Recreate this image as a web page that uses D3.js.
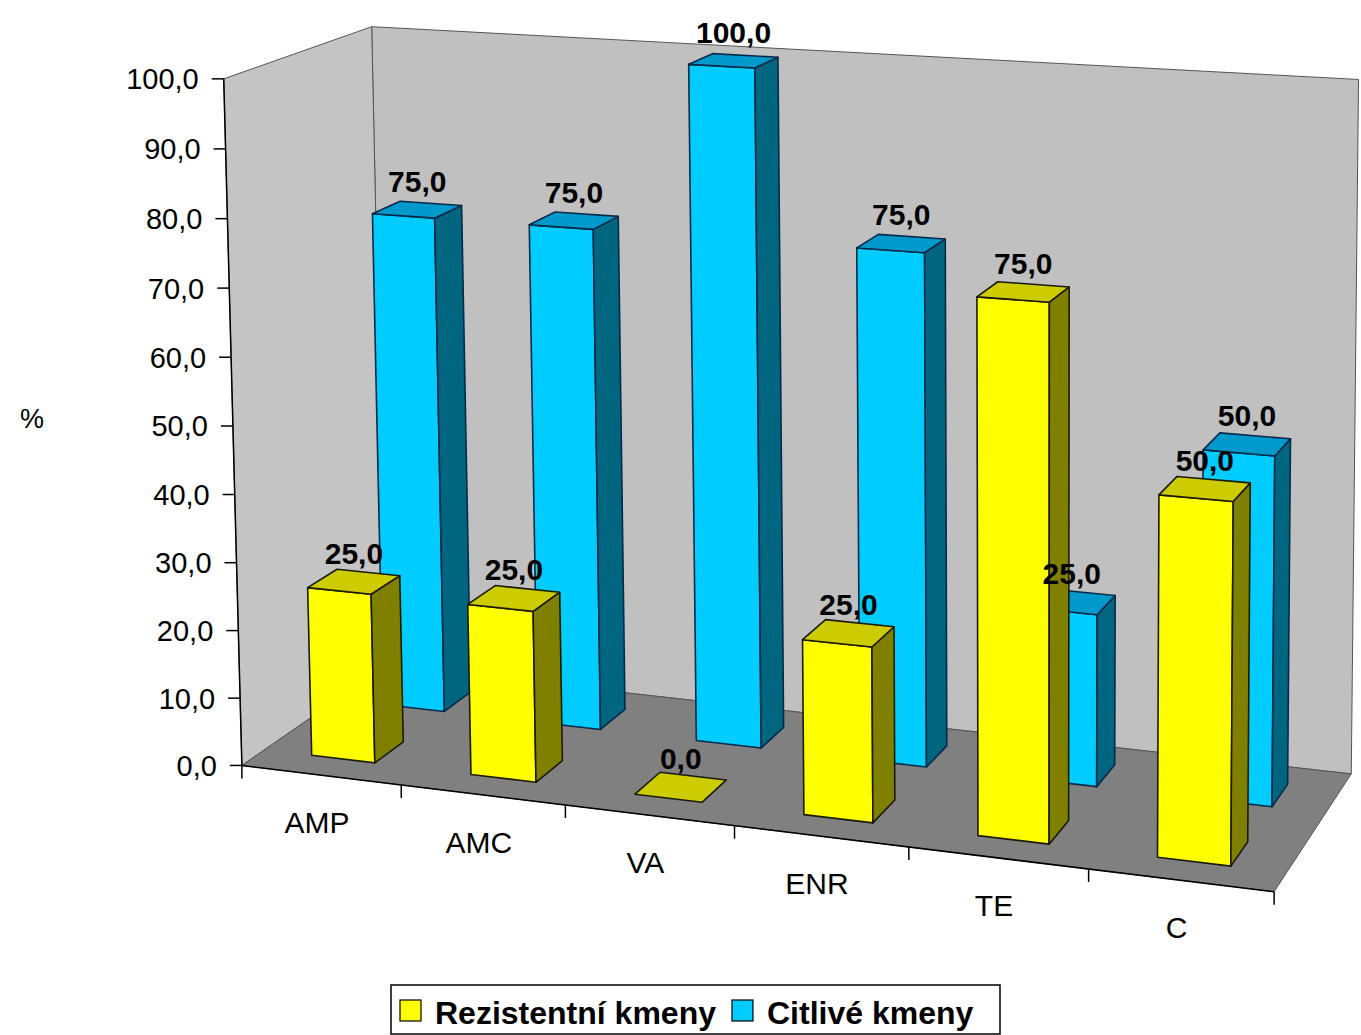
<!DOCTYPE html>
<html lang="cs">
<head>
<meta charset="utf-8">
<title>Rezistence kmenů - D3</title>
<style>
  body { margin: 0; background: #fff; }
  svg { display: block; font-family: "Liberation Sans", Arial, sans-serif; }
</style>
</head>
<body>
<svg></svg>
<script src="https://cdn.jsdelivr.net/npm/d3@7/dist/d3.min.js"></script>
<script>
// data
var categories = ['AMP', 'AMC', 'VA', 'ENR', 'TE', 'C'];
var seriesNames = ['Rezistentní kmeny', 'Citlivé kmeny'];
var rezistentni = [25, 25, 0, 25, 75, 50];
var citlive = [75, 75, 100, 75, 25, 50];
var valueTicks = [0, 10, 20, 30, 40, 50, 60, 70, 80, 90, 100];

var width = 1361, height = 1035;
var svg = d3.select('svg').attr('width', width).attr('height', height);

var fmt = d3.formatLocale({ decimal: ',', thousands: ' ', grouping: [3], currency: ['', ''] }).format('.1f');

// world scales: category position, value, depth (row)
var xWorld = d3.scaleLinear().domain([0, categories.length]).range([0, 1]);
var yWorld = d3.scaleLinear().domain([0, 100]).range([0, 1]);
var xBand = d3.scaleBand().domain(categories).range([0, categories.length]);
var zBand = d3.scaleBand().domain(seriesNames).range([0, 1]);
var barFrac = 0.4;

// camera: fit a perspective projection to the plot box corners (cat, value, depth -> screen)
var calib = [
  [0, 0, 0, 245, 764], [0, 100, 0, 220, 78], [0, 0, 1, 380, 668], [0, 100, 1, 378, 25],
  [6, 0, 1, 1352, 773], [6, 100, 1, 1357, 80], [6, 0, 0, 1277, 893],
  [1, 0, 0, 402, 784], [2, 0, 0, 566, 804], [3, 0, 0, 735, 825], [4, 0, 0, 907, 847], [5, 0, 0, 1087, 869],
  [0, 80, 0, 225, 220], [0, 50, 0, 233, 428], [0, 20, 0, 240, 631]
];

function solve(A, b) {
  var n = b.length, M = A.map(function (r, i) { return r.concat([b[i]]); });
  for (var c = 0; c < n; c++) {
    var p = c;
    for (var r = c + 1; r < n; r++) if (Math.abs(M[r][c]) > Math.abs(M[p][c])) p = r;
    var t = M[c]; M[c] = M[p]; M[p] = t;
    for (var r2 = c + 1; r2 < n; r2++) {
      var f = M[r2][c] / M[c][c];
      for (var k = c; k <= n; k++) M[r2][k] -= f * M[c][k];
    }
  }
  var x = new Array(n).fill(0);
  for (var i = n - 1; i >= 0; i--) {
    var s = M[i][n];
    for (var j = i + 1; j < n; j++) s -= M[i][j] * x[j];
    x[i] = s / M[i][i];
  }
  return x;
}

var m = (function () {
  var rows = [], rhs = [];
  calib.forEach(function (c) {
    var X = xWorld(c[0]), Y = yWorld(c[1]), Z = c[2], u = c[3] / 1000, v = c[4] / 1000;
    rows.push([X, Y, Z, 1, 0, 0, 0, 0, -u * X, -u * Y, -u * Z]); rhs.push(u);
    rows.push([0, 0, 0, 0, X, Y, Z, 1, -v * X, -v * Y, -v * Z]); rhs.push(v);
  });
  var AtA = [], Atb = [];
  for (var i = 0; i < 11; i++) {
    AtA.push(new Array(11).fill(0)); Atb.push(0);
    for (var r = 0; r < rows.length; r++) {
      Atb[i] += rows[r][i] * rhs[r];
      for (var j = 0; j < 11; j++) AtA[i][j] += rows[r][i] * rows[r][j];
    }
  }
  return solve(AtA, Atb);
})();

function project(cat, val, z) {
  var X = xWorld(cat), Y = yWorld(val), Z = z;
  var w = m[8] * X + m[9] * Y + m[10] * Z + 1;
  return [1000 * (m[0] * X + m[1] * Y + m[2] * Z + m[3]) / w,
          1000 * (m[4] * X + m[5] * Y + m[6] * Z + m[7]) / w];
}

function quad(pts) {
  return 'M' + pts.map(function (p) { return project(p[0], p[1], p[2]).join(','); }).join('L') + 'Z';
}

var n = categories.length;

// walls and floor
svg.append('path').attr('d', quad([[0, 0, 1], [n, 0, 1], [n, 100, 1], [0, 100, 1]]))
  .attr('fill', '#c0c0c0').attr('stroke', '#555').attr('stroke-width', 1);
svg.append('path').attr('d', quad([[0, 0, 0], [0, 0, 1], [0, 100, 1], [0, 100, 0]]))
  .attr('fill', '#c4c4c4').attr('stroke', '#555').attr('stroke-width', 1);
svg.append('path').attr('d', quad([[0, 0, 0], [n, 0, 0], [n, 0, 1], [0, 0, 1]]))
  .attr('fill', '#808080').attr('stroke', '#555').attr('stroke-width', 1);

// value axis
var a0 = project(0, 0, 0), a1 = project(0, 100, 0);
svg.append('line').attr('x1', a0[0]).attr('y1', a0[1]).attr('x2', a1[0]).attr('y2', a1[1])
  .attr('stroke', '#000').attr('stroke-width', 1.5);
var vt = svg.append('g').selectAll('g').data(valueTicks).enter().append('g');
vt.append('line')
  .attr('x1', function (d) { return project(0, d, 0)[0] - 12; })
  .attr('x2', function (d) { return project(0, d, 0)[0]; })
  .attr('y1', function (d) { return project(0, d, 0)[1]; })
  .attr('y2', function (d) { return project(0, d, 0)[1]; })
  .attr('stroke', '#000').attr('stroke-width', 1.5);
vt.append('text')
  .attr('x', function (d) { return project(0, d, 0)[0] - 25; })
  .attr('y', function (d) { return project(0, d, 0)[1]; })
  .attr('dy', '0.36em').attr('text-anchor', 'end')
  .attr('font-size', 29).attr('fill', '#000')
  .text(function (d) { return fmt(d); });

svg.append('text').attr('x', 32).attr('y', 418).attr('dy', '0.36em')
  .attr('text-anchor', 'middle').attr('font-size', 27).text('%');

// category axis
var c0 = project(0, 0, 0), c1 = project(n, 0, 0);
svg.append('line').attr('x1', c0[0]).attr('y1', c0[1]).attr('x2', c1[0]).attr('y2', c1[1])
  .attr('stroke', '#000').attr('stroke-width', 1.5);
svg.append('g').selectAll('line').data(d3.range(n + 1)).enter().append('line')
  .attr('x1', function (i) { return project(i, 0, 0)[0]; })
  .attr('x2', function (i) { return project(i, 0, 0)[0]; })
  .attr('y1', function (i) { return project(i, 0, 0)[1]; })
  .attr('y2', function (i) { return project(i, 0, 0)[1] + 13; })
  .attr('stroke', '#000').attr('stroke-width', 1.5);
svg.append('g').selectAll('text').data(categories).enter().append('text')
  .attr('x', function (d) { return project(xBand(d) + xBand.bandwidth() / 2, 0, 0)[0] - 4; })
  .attr('y', function (d) { return project(xBand(d) + xBand.bandwidth() / 2, 0, 0)[1] + 58; })
  .attr('text-anchor', 'middle').attr('font-size', 30).text(function (d) { return d; });

// bars: back row first, left to right
var styles = {
  'Rezistentní kmeny': { front: '#ffff00', side: '#808000', top: '#cccc00', line: '#1a1a00' },
  'Citlivé kmeny': { front: '#00ccff', side: '#006680', top: '#0099cc', line: '#002a4a' }
};
var bars = [];
[citlive, rezistentni].forEach(function (vals, si) {
  var name = si === 0 ? seriesNames[1] : seriesNames[0];
  vals.forEach(function (v, i) { bars.push({ cat: categories[i], series: name, value: v }); });
});

var barG = svg.append('g').selectAll('g').data(bars).enter().append('g');
barG.each(function (d) {
  var g = d3.select(this), st = styles[d.series];
  var cx = xBand(d.cat) + xBand.bandwidth() / 2, hw = xBand.bandwidth() * barFrac / 2;
  var cz = zBand(d.series) + zBand.bandwidth() / 2, hd = zBand.bandwidth() * barFrac / 2;
  var x0 = cx - hw, x1 = cx + hw, z0 = cz - hd, z1 = cz + hd, v = d.value;
  if (v > 0) {
    g.append('path').attr('d', quad([[x0, 0, z0], [x1, 0, z0], [x1, v, z0], [x0, v, z0]]))
      .attr('fill', st.front).attr('stroke', st.line).attr('stroke-width', 1.6).attr('stroke-linejoin', 'round');
    g.append('path').attr('d', quad([[x1, 0, z0], [x1, 0, z1], [x1, v, z1], [x1, v, z0]]))
      .attr('fill', st.side).attr('stroke', st.line).attr('stroke-width', 1.6).attr('stroke-linejoin', 'round');
  }
  g.append('path').attr('d', quad([[x0, v, z0], [x1, v, z0], [x1, v, z1], [x0, v, z1]]))
    .attr('fill', st.top).attr('stroke', st.line).attr('stroke-width', 1.6).attr('stroke-linejoin', 'round');
});

// value labels
svg.append('g').selectAll('text').data(bars).enter().append('text')
  .attr('x', function (d) {
    return project(xBand(d.cat) + xBand.bandwidth() / 2, d.value, zBand(d.series) + zBand.bandwidth() / 2)[0];
  })
  .attr('y', function (d) {
    return project(xBand(d.cat) + xBand.bandwidth() / 2, d.value, zBand(d.series) + zBand.bandwidth() / 2)[1] - 18;
  })
  .attr('text-anchor', 'middle').attr('font-size', 30).attr('font-weight', 'bold')
  .text(function (d) { return fmt(d.value); });

// legend
var legend = svg.append('g');
var box = legend.append('rect').attr('x', 391).attr('y', 985).attr('width', 609).attr('height', 49)
  .attr('fill', '#fff').attr('stroke', '#000').attr('stroke-width', 1.5);
var lx = 400;
seriesNames.forEach(function (name) {
  legend.append('rect').attr('x', lx).attr('y', 1000).attr('width', 21).attr('height', 21)
    .attr('fill', styles[name].front).attr('stroke', '#000').attr('stroke-width', 1.2);
  var t = legend.append('text').attr('x', lx + 35).attr('y', 1024)
    .attr('font-size', 32).attr('font-weight', 'bold').text(name);
  lx += 35 + t.node().getComputedTextLength() + 16;
});
</script>
</body>
</html>
